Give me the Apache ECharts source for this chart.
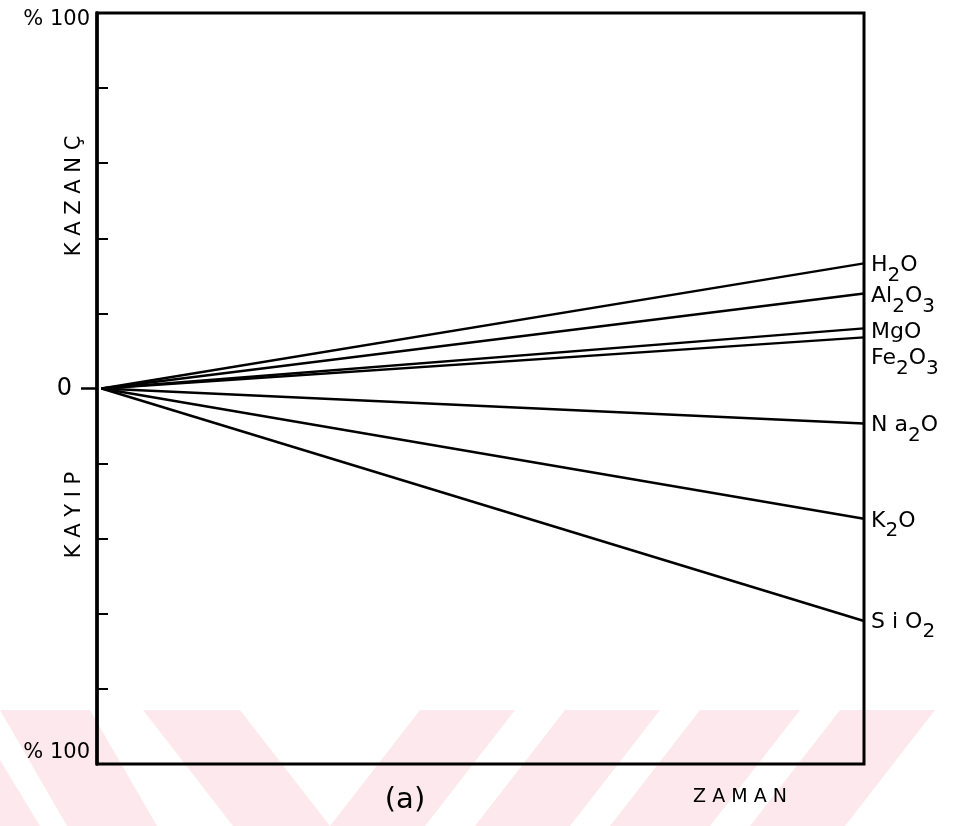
<!DOCTYPE html>
<html>
<head>
<meta charset="utf-8">
<script src="https://cdn.jsdelivr.net/npm/echarts@6/dist/echarts.min.js"></script>
<style>
  html, body { margin: 0; padding: 0; background: #ffffff; }
  #chart { width: 959px; height: 826px; }
</style>
</head>
<body>
<div id="chart"></div>
<script>
// Oxide gains / losses (%) over time, relative to the starting rock
const oxides = ['H2O', 'Al2O3', 'MgO', 'Fe2O3', 'Na2O', 'K2O', 'SiO2'];
const oxideLabels = [
  '{b|H}{s|2}{b|O}',
  '{b|Al}{s|2}{b|O}{s|3}',
  '{b|MgO}',
  '{b|Fe}{s|2}{b|O}{s|3}',
  '{b|N a}{s|2}{b|O}',
  '{b|K}{s|2}{b|O}',
  '{b|S i O}{s|2}'
];
const timeStart = 0.6;
const timeEnd = 100;
const startValues = [0, 0, 0, 0, 0, 0, 0];
const endValues = [33.3, 25.3, 16, 13.6, -9.3, -34.7, -61.9];
const labelShiftY = [7, 8, 9, 26, 7, 7, 6];

// Y axis: ticks every 20 %, text only at the ends and at zero
const yTickValues = [80, 60, 40, 20, -20, -40, -60, -80];
const yLabelValues = [100, 0, -100];
const yLabelTexts = ['% 100', '0', '% 100'];

const FONT = 'DejaVu Sans';

const chart = echarts.init(document.getElementById('chart'), null, { renderer: 'canvas' });

const series = oxides.map((name, i) => ({
  name: name,
  type: 'line',
  data: [[timeStart, startValues[i]], [timeEnd, endValues[i]]],
  symbol: 'none',
  silent: true,
  lineStyle: { color: '#000', width: i < 4 ? 2.3 : 2.5 },
  endLabel: {
    show: true,
    formatter: () => oxideLabels[i],
    distance: 7,
    offset: [0, labelShiftY[i]],
    color: '#000',
    rich: {
      b: { fontFamily: FONT, fontSize: 22, color: '#000', lineHeight: 24, padding: [0, 0, 10, 0] },
      s: { fontFamily: FONT, fontSize: 20, color: '#000', lineHeight: 24, padding: [10, 0, 0, 0] }
    }
  }
}));

const labelFor = v => {
  const k = yLabelValues.indexOf(v);
  return k < 0 ? '' : yLabelTexts[k];
};

// Watermark bands along the bottom edge
const pink = '#fde9ed';
const bands = [
  [[0, 710], [90, 710], [157, 826], [67, 826]],
  [[143, 710], [240, 710], [330, 826], [233, 826]],
  [[420, 710], [515, 710], [425, 826], [330, 826]],
  [[565, 710], [660, 710], [570, 826], [475, 826]],
  [[700, 710], [800, 710], [710, 826], [610, 826]],
  [[840, 710], [935, 710], [845, 826], [750, 826]],
  [[0, 760], [0, 826], [40, 826]]
];

chart.setOption({
  animation: false,
  backgroundColor: '#ffffff',
  grid: {
    left: 97, right: 95, top: 13, bottom: 62,
    show: true, borderColor: '#000', borderWidth: 3, backgroundColor: 'transparent'
  },
  xAxis: {
    type: 'value', min: 0, max: 100,
    axisLine: { show: false }, axisTick: { show: false },
    axisLabel: { show: false }, splitLine: { show: false }
  },
  yAxis: [
    {
      type: 'value', min: -100, max: 100, interval: 20,
      axisLine: { show: true, lineStyle: { color: '#000', width: 3.5 } },
      axisTick: { show: true, inside: true, length: 11, customValues: yTickValues,
                  lineStyle: { color: '#000', width: 2 } },
      axisLabel: { show: false },
      splitLine: { show: false }
    },
    {
      type: 'value', min: -100, max: 100, interval: 20, position: 'left',
      axisLine: { show: false },
      axisTick: { show: true, inside: false, length: 16, customValues: [0],
                  lineStyle: { color: '#000', width: 2.5 } },
      axisLabel: {
        show: true, customValues: yLabelValues, margin: 7,
        formatter: v => {
          const t = labelFor(v);
          if (v === 100) return '{hi|' + t + '}';
          if (v === -100) return '{lo|' + t + '}';
          return '{z|' + t + '}';
        },
        rich: {
          hi: { fontFamily: FONT, fontSize: 21, color: '#000', padding: [14, 0, 0, 0] },
          lo: { fontFamily: FONT, fontSize: 21, color: '#000', padding: [0, 0, 22, 0] },
          z: { fontFamily: FONT, fontSize: 24, color: '#000', padding: [0, 18, 0, 0] }
        }
      },
      splitLine: { show: false }
    }
  ],
  graphic: [
    ...bands.map(pts => ({
      type: 'polygon', z: -10, silent: true,
      shape: { points: pts }, style: { fill: pink }
    })),
    {
      type: 'text', x: 75, y: 196, rotation: Math.PI / 2, silent: true,
      style: { text: 'K A Z A N Ç', font: '21px "DejaVu Sans"', fill: '#000',
               align: 'center', verticalAlign: 'middle' }
    },
    {
      type: 'text', x: 75, y: 515, rotation: Math.PI / 2, silent: true,
      style: { text: 'K A Y I P', font: '21px "DejaVu Sans"', fill: '#000',
               align: 'center', verticalAlign: 'middle' }
    },
    {
      type: 'text', x: 405, y: 800, silent: true,
      style: { text: '(a)', font: '29px "DejaVu Sans"', fill: '#000',
               align: 'center', verticalAlign: 'middle' }
    },
    {
      type: 'text', x: 740, y: 797, silent: true,
      style: { text: 'Z A M A N', font: '19px "DejaVu Sans"', fill: '#000',
               align: 'center', verticalAlign: 'middle' }
    }
  ],
  series: series
});
</script>
</body>
</html>
